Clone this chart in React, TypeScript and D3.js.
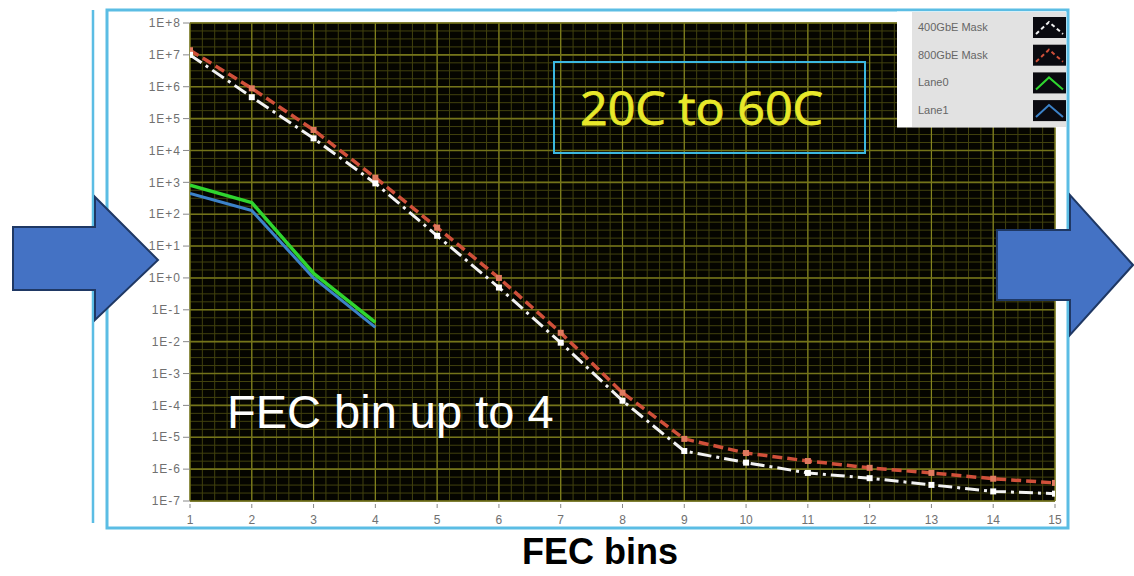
import React from 'react';
import * as d3 from 'd3';

// FEC bin index (x axis)
const bins = [1, 2, 3, 4, 5, 6, 7, 8, 9, 10, 11, 12, 13, 14, 15];
const laneBins = [1, 2, 3, 4];

// codeword counts per FEC bin
const mask400 = [1e7, 4.7e5, 2.4e4, 9.3e2, 21, 0.5, 9.3e-3, 1.4e-4, 3.7e-6, 1.6e-6, 7.6e-7, 5.2e-7, 3.2e-7, 2.0e-7, 1.7e-7];
const mask800 = [1.4e7, 8.9e5, 4.4e4, 1.4e3, 38, 1.0, 1.9e-2, 2.5e-4, 8.9e-6, 3.2e-6, 1.8e-6, 1.1e-6, 7.6e-7, 5.0e-7, 3.7e-7];
const lane0 = [8.1e2, 2.3e2, 1.4, 0.04];
const lane1 = [4.5e2, 1.3e2, 1.0, 0.028];

const yExponents = [8, 7, 6, 5, 4, 3, 2, 1, 0, -1, -2, -3, -4, -5, -6, -7];
const legendLabels = ['400GbE Mask', '800GbE Mask', 'Lane0', 'Lane1'];

const W = 1134;
const H = 576;
const plot = { left: 190, right: 1055, top: 23, bottom: 501 };

const x = d3.scaleLinear().domain([1, 15]).range([plot.left, plot.right]);
const y = d3.scaleLog().domain([1e-7, 1e8]).range([plot.bottom, plot.top]);

const expLabel = (e: number) => `1E${e >= 0 ? '+' : '-'}${Math.abs(e)}`;

const line = d3
  .line<[number, number]>()
  .x((d) => x(d[0]))
  .y((d) => y(d[1]));

const pairs = (xs: number[], ys: number[]) => xs.map((v, i) => [v, ys[i]] as [number, number]);

const FRAME = '#5bbde4';
const ARROW = '#4472c4';

const App = () => {
  // minor grid: 5 steps per bin, 4 steps per decade
  const xMinor = d3.range(1, 15.001, 0.2);
  const yMinor = d3.range(-7, 8.001, 0.25).map((e) => Math.pow(10, e));

  const legendColors = ['#f2f2f2', '#d0503a', '#2fd52f', '#3c82c8'];

  return (
    <svg width={W} height={H} style={{ position: 'absolute', left: 0, top: 0, background: '#fff' }}>
      <defs>
        <clipPath id='plot-clip'>
          <rect x={plot.left} y={plot.top} width={plot.right - plot.left} height={plot.bottom - plot.top} />
        </clipPath>
      </defs>

      {/* outer frames */}
      <line x1={93} x2={93} y1={10} y2={523} stroke={FRAME} strokeWidth={2.5} />
      <rect x={107} y={10} width={961} height={518} fill='#fff' stroke={FRAME} strokeWidth={3} />

      {/* plot background + grid */}
      <rect x={plot.left} y={plot.top} width={plot.right - plot.left} height={plot.bottom - plot.top} fill='#050500' />
      <g>
        {xMinor.map((v, i) => (
          <line key={'xm' + i} x1={x(v)} x2={x(v)} y1={plot.top} y2={plot.bottom} stroke='#42420e' strokeWidth={1} />
        ))}
        {yMinor.map((v, i) => (
          <line key={'ym' + i} x1={plot.left} x2={plot.right} y1={y(v)} y2={y(v)} stroke='#42420e' strokeWidth={1} />
        ))}
        {bins.map((b) => (
          <line key={'xM' + b} x1={x(b)} x2={x(b)} y1={plot.top} y2={plot.bottom} stroke='#84841f' strokeWidth={1.2} />
        ))}
        {yExponents.map((e) => (
          <line key={'yM' + e} x1={plot.left} x2={plot.right} y1={y(Math.pow(10, e))} y2={y(Math.pow(10, e))} stroke='#74741a' strokeWidth={1.6} />
        ))}
      </g>

      {/* y axis */}
      <g fontFamily='Liberation Sans, Arial, sans-serif' fontSize={12} fill='#707070'>
        {yExponents.map((e) => (
          <g key={'yt' + e}>
            <line x1={183} x2={plot.left} y1={y(Math.pow(10, e))} y2={y(Math.pow(10, e))} stroke='#888' />
            <text x={181} y={y(Math.pow(10, e))} dy='0.35em' textAnchor='end' letterSpacing={1}>
              {expLabel(e)}
            </text>
          </g>
        ))}
      </g>

      {/* x axis */}
      <g fontFamily='Liberation Sans, Arial, sans-serif' fontSize={12} fill='#707070'>
        {bins.map((b) => (
          <g key={'xt' + b}>
            <line x1={x(b)} x2={x(b)} y1={504} y2={508} stroke='#888' />
            <text x={x(b)} y={524} textAnchor='middle'>
              {b}
            </text>
          </g>
        ))}
      </g>

      {/* series */}
      <g clipPath='url(#plot-clip)' fill='none' strokeLinejoin='round'>
        <path d={line(pairs(bins, mask800)) || ''} stroke='#d0503a' strokeWidth={3.5} strokeDasharray='10 5' />
        <path d={line(pairs(bins, mask400)) || ''} stroke='#f2f2f2' strokeWidth={3} strokeDasharray='14 5 3 5' />
        {bins.map((b, i) => (
          <rect key={'m8' + b} x={x(b) - 3} y={y(mask800[i]) - 3} width={6} height={6} fill='#e07a5f' />
        ))}
        {bins.map((b, i) => (
          <rect key={'m4' + b} x={x(b) - 3} y={y(mask400[i]) - 3} width={6} height={6} fill='#ffffff' />
        ))}
        <path d={line(pairs(laneBins, lane1)) || ''} stroke='#3c82c8' strokeWidth={3} />
        <path d={line(pairs(laneBins, lane0)) || ''} stroke='#2fd52f' strokeWidth={3.5} />
      </g>

      {/* legend */}
      <rect x={897} y={11.5} width={169} height={116} fill='#fff' />
      <rect x={912} y={12} width={154} height={115} fill='#e2e2e2' />
      {legendLabels.map((label, i) => {
        const cy = 27 + i * 27.7;
        return (
          <g key={label}>
            <text x={918} y={cy} dy='0.35em' fontFamily='Liberation Sans, Arial, sans-serif' fontSize={11} fill='#666'>
              {label}
            </text>
            <rect x={1033} y={cy - 10} width={33} height={21} fill='#0a0a10' />
            <polyline
              points={`${1036},${cy + 7} ${1049},${cy - 5} ${1063},${cy + 7}`}
              fill='none'
              stroke={legendColors[i]}
              strokeWidth={2}
              strokeDasharray={i < 2 ? '4 3' : undefined}
            />
          </g>
        );
      })}

      {/* annotations */}
      <rect x={554} y={62} width={311} height={91} fill='none' stroke='#3cb8e0' strokeWidth={2} />
      <text x={580} y={125} fontFamily='Open Sans, sans-serif' fontSize={46} fill='#e8e82a' stroke='#e8e82a' strokeWidth={0.8} textLength={243} lengthAdjust='spacingAndGlyphs'>
        20C to 60C
      </text>
      <text x={227} y={428} fontFamily='Liberation Sans, Arial, sans-serif' fontSize={47} fill='#ffffff'>
        FEC bin up to 4
      </text>
      <text x={600} y={564} textAnchor='middle' fontFamily='Liberation Sans, Arial, sans-serif' fontWeight='bold' fontSize={36} fill='#000'>
        FEC bins
      </text>

      {/* arrows */}
      <polygon
        points='13,227 95,227 95,197 158,260 95,320 95,290 13,290'
        fill={ARROW}
        stroke='#1f3864'
        strokeWidth={2}
        strokeLinejoin='miter'
      />
      <polygon
        points='997,230 1070,230 1070,195 1133,265 1070,335 1070,300 997,300'
        fill={ARROW}
        stroke='#1f3864'
        strokeWidth={2}
        strokeLinejoin='miter'
      />
    </svg>
  );
};

export default App;
